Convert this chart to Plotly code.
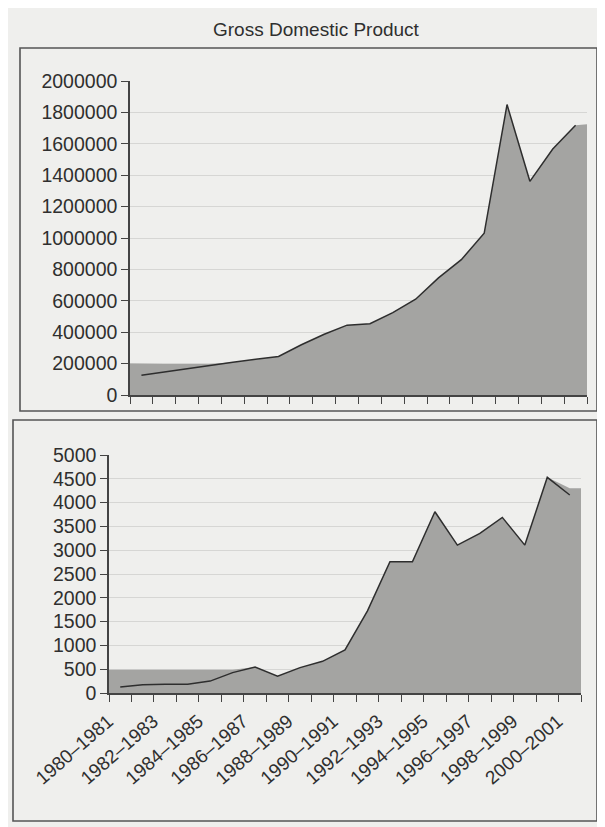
import plotly.graph_objects as go

# ---------------- data ----------------
gdp_categories = [
    "1980–1981", "1981–1982", "1982–1983", "1983–1984", "1984–1985",
    "1985–1986", "1986–1987", "1987–1988", "1988–1989", "1989–1990",
    "1990–1991", "1991–1992", "1992–1993", "1993–1994", "1994–1995",
    "1995–1996", "1996–1997", "1997–1998", "1998–1999", "1999–2000",
]
gdp_values = [126000, 147000, 169000, 189000, 208000, 227000, 245000, 320000,
              387000, 445000, 454000, 525000, 610000, 746000, 862000, 1030000,
              1850000, 1361000, 1567000, 1718000]
gdp_shade = [198000, 198000, 198000, 198000, 208000, 227000, 245000, 320000,
             387000, 445000, 454000, 525000, 610000, 746000, 862000, 1030000,
             1850000, 1361000, 1567000, 1718000]
gdp_shade_edges = [200000, 1725000]
gdp_yticks = [0, 200000, 400000, 600000, 800000, 1000000, 1200000,
              1400000, 1600000, 1800000, 2000000]

fdi_categories = [
    "1980–1981", "1981–1982", "1982–1983", "1983–1984", "1984–1985",
    "1985–1986", "1986–1987", "1987–1988", "1988–1989", "1989–1990",
    "1990–1991", "1991–1992", "1992–1993", "1993–1994", "1994–1995",
    "1995–1996", "1996–1997", "1997–1998", "1998–1999", "1999–2000",
    "2000–2001",
]
fdi_values = [126, 175, 182, 182, 250, 428, 547, 351, 533, 666, 905, 1725,
              2756, 2756, 3808, 3107, 3352, 3689, 3107, 4530, 4159]
fdi_shade = [490, 490, 490, 490, 490, 490, 547, 351, 533, 666, 905, 1725,
             2756, 2756, 3808, 3107, 3352, 3689, 3107, 4530, 4300]
fdi_shade_edges = [490, 4300]
fdi_yticks = [0, 500, 1000, 1500, 2000, 2500, 3000, 3500, 4000, 4500, 5000]

# ---------------- style ----------------
OFF = 8                      # page body margin of the html page
W, H = 605 - OFF, 827 - OFF  # figure size so that it fills the window
PAPER = "#efefed"
FILL = "#a4a4a2"
LINE = "#2e2e2e"
AXIS = "#444444"
TXT = "#2f2f2f"
FONT = "Liberation Sans, Arial, sans-serif"

def fx(p):   # window x pixel -> paper fraction
    return (p - OFF) / W

def fy(p):   # window y pixel -> paper fraction
    return 1 - (p - OFF) / H

fig = go.Figure()

def add_panel(cats, vals, shade, edges, xa, ya):
    n = len(cats)
    idx = list(range(n))
    fig.add_trace(go.Scatter(
        x=[-0.5] + idx + [n - 0.5], y=[edges[0]] + shade + [edges[1]],
        mode="lines", line=dict(width=0), fill="tozeroy", fillcolor=FILL,
        hoverinfo="skip", showlegend=False, xaxis=xa, yaxis=ya))
    fig.add_trace(go.Scatter(
        x=idx, y=vals, mode="lines", line=dict(color=LINE, width=1.5),
        hoverinfo="skip", showlegend=False, xaxis=xa, yaxis=ya))

add_panel(gdp_categories, gdp_values, gdp_shade, gdp_shade_edges, "x", "y")
add_panel(fdi_categories, fdi_values, fdi_shade, fdi_shade_edges, "x2", "y2")

n1 = len(gdp_categories)
n2 = len(fdi_categories)
bounds1 = [i - 0.5 for i in range(n1 + 1)]
bounds2 = [i - 0.5 for i in range(n2 + 1)]

yax_common = dict(showline=True, linecolor=AXIS, linewidth=1.5, ticks="outside",
                  ticklen=7, tickcolor=AXIS, tickwidth=1.3,
                  showgrid=True, gridcolor="#d6d6d4", gridwidth=1,
                  zeroline=False, automargin=False,
                  tickfont=dict(family=FONT, size=19.5, color=TXT))

fig.update_layout(
    width=W, height=H,
    margin=dict(l=0, r=0, t=0, b=0, pad=0, autoexpand=False),
    paper_bgcolor=PAPER, plot_bgcolor=PAPER, showlegend=False,
    xaxis=dict(domain=[fx(130), fx(587)], range=[-0.5, n1 - 0.5], anchor="y",
               showline=True, linecolor=AXIS, linewidth=1.5, automargin=False,
               tickmode="array", tickvals=bounds1, showticklabels=False,
               ticks="outside", ticklen=7, tickcolor=AXIS, tickwidth=1.3,
               showgrid=False, zeroline=False),
    yaxis=dict(domain=[fy(395), fy(81)], range=[0, 2000000], anchor="x",
               tickmode="array", tickvals=gdp_yticks,
               ticktext=[str(v) for v in gdp_yticks], **yax_common),
    xaxis2=dict(domain=[fx(109), fx(581)], range=[-0.5, n2 - 0.5], anchor="y2",
                showline=True, linecolor=AXIS, linewidth=1.5, automargin=False,
                tickmode="array", tickvals=list(range(0, n2, 2)),
                ticktext=[fdi_categories[i] for i in range(0, n2, 2)],
                ticks="", tickangle=-41, ticklabelshift=-12, ticklabelstandoff=8,
                tickfont=dict(family=FONT, size=19, color=TXT),
                minor=dict(tickmode="array", tickvals=bounds2, ticks="outside",
                           ticklen=7, tickcolor=AXIS, tickwidth=1.3, showgrid=False),
                showgrid=False, zeroline=False),
    yaxis2=dict(domain=[fy(693), fy(455)], range=[0, 5000], anchor="x2",
                tickmode="array", tickvals=fdi_yticks,
                ticktext=[str(v) for v in fdi_yticks], **yax_common),
)

# panel frames
fig.add_shape(type="rect", xref="paper", yref="paper",
              x0=fx(20), x1=fx(597), y0=fy(411), y1=fy(48),
              line=dict(color="#555555", width=1.6), fillcolor="rgba(0,0,0,0)", layer="above")
fig.add_shape(type="rect", xref="paper", yref="paper",
              x0=fx(13), x1=fx(597), y0=fy(821), y1=fy(420),
              line=dict(color="#555555", width=1.6), fillcolor="rgba(0,0,0,0)", layer="above")

fig.add_annotation(text="Gross Domestic Product", xref="paper", yref="paper",
                   x=fx(316), y=fy(29), showarrow=False,
                   xanchor="center", yanchor="middle",
                   font=dict(family=FONT, size=19, color=TXT))

fig.write_html("out.html")
